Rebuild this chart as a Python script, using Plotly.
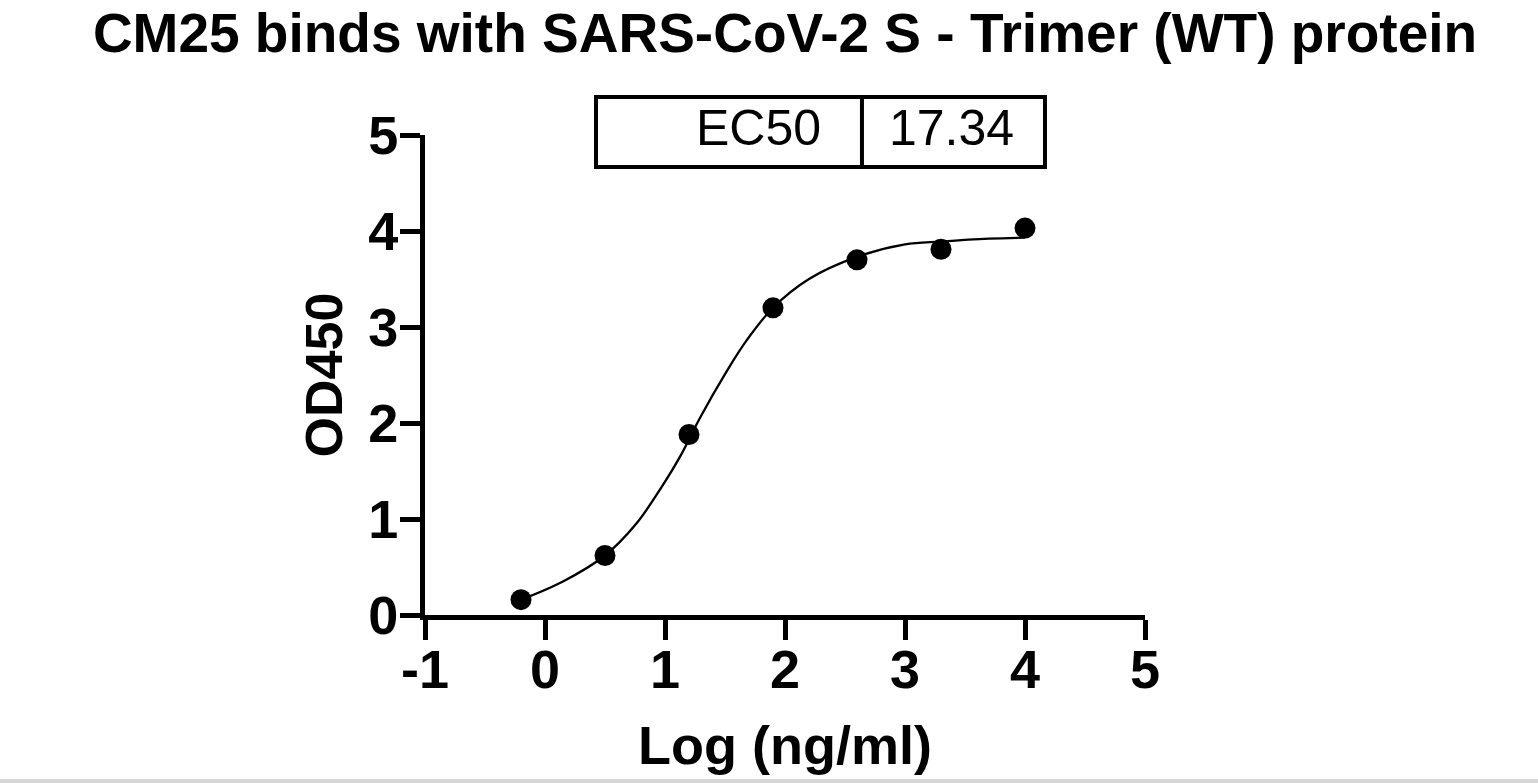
import plotly.graph_objects as go

# measured points: log concentration (ng/ml) vs OD450
logConc = [-0.2, 0.5, 1.2, 1.9, 2.6, 3.3, 4.0]
od450 = [0.16, 0.62, 1.88, 3.2, 3.7, 3.81, 4.03]

# fitted curve
fitX = [-0.2, 0.15, 0.5, 0.76, 0.97, 1.13, 1.29, 1.51, 1.68, 1.9, 2.2, 2.6, 3.0, 3.3, 3.7, 4.0]
fitY = [0.16, 0.35, 0.62, 0.95, 1.33, 1.66, 2.05, 2.53, 2.86, 3.2, 3.5, 3.73, 3.86, 3.89, 3.92, 3.93]

tableLabel = "EC50"
tableValue = "17.34"

xTicks = [-1, 0, 1, 2, 3, 4, 5]
xTickText = ["-1", "0", "1", "2", "3", "4", "5"]
yTicks = [0, 1, 2, 3, 4, 5]
yTickText = ["0", "1", "2", "3", "4", "5"]

font = "Liberation Sans, Arial, sans-serif"

fig = go.Figure()
fig.add_trace(go.Scatter(x=fitX, y=fitY, mode="lines", line=dict(color="black", width=2.3, shape="spline", smoothing=1), showlegend=False, hoverinfo="skip"))
fig.add_trace(go.Scatter(x=logConc, y=od450, mode="markers", marker=dict(color="black", size=21), showlegend=False, cliponaxis=False))

# EC50 box (paper coords)
fig.add_shape(type="rect", xref="paper", yref="paper", x0=0.2375, x1=0.8611, y0=0.9333, y1=1.0792, line=dict(color="black", width=4))
fig.add_shape(type="line", xref="paper", yref="paper", x0=0.6069, x1=0.6069, y0=0.9333, y1=1.0792, line=dict(color="black", width=4))
fig.add_annotation(xref="paper", yref="paper", x=0.5528, y=1.0156, text=tableLabel, showarrow=False, xanchor="right", yanchor="middle", font=dict(family=font, size=50, color="black"))
fig.add_annotation(xref="paper", yref="paper", x=0.7306, y=1.0156, text=tableValue, showarrow=False, xanchor="center", yanchor="middle", font=dict(family=font, size=50, color="black"))

# grey strip at the bottom edge of the scan
fig.add_shape(type="rect", xref="paper", yref="paper", x0=-1, x1=2, y0=-0.36, y1=-0.3417, fillcolor="#d6d6d6", line=dict(width=0), layer="below")

fig.update_layout(
    width=1538, height=783,
    margin=dict(l=425, r=393, t=135, b=168),
    paper_bgcolor="white", plot_bgcolor="white",
    title=dict(text="CM25 binds with SARS-CoV-2 S - Trimer (WT) protein", x=0.5, xref="paper", xanchor="center",
               y=0.958, yref="container", yanchor="middle", font=dict(family=font, size=55, color="black", weight="bold")),
    xaxis=dict(range=[-1, 5], tickvals=xTicks, ticktext=xTickText, ticks="outside", ticklen=20, tickwidth=5, tickcolor="black",
               showline=True, linewidth=5, linecolor="black", showgrid=False, zeroline=False, ticklabelstandoff=-17,
               tickfont=dict(family=font, size=54, color="black", weight="bold"),
               title=dict(text="Log (ng/ml)", standoff=30, font=dict(family=font, size=54, color="black", weight="bold"))),
    yaxis=dict(range=[0, 5], tickvals=yTicks, ticktext=yTickText, ticks="outside", ticklen=20, tickwidth=5, tickcolor="black",
               showline=True, linewidth=5, linecolor="black", showgrid=False, zeroline=False, ticklabelstandoff=-9,
               tickfont=dict(family=font, size=54, color="black", weight="bold"),
               title=dict(text="OD450", standoff=10, font=dict(family=font, size=52, color="black", weight="bold"))),
)

# drop the default 8px body margin so the figure fills the window exactly
fig.write_html("out.html", config={"displayModeBar": False}, post_script="document.body.style.margin='0';")
